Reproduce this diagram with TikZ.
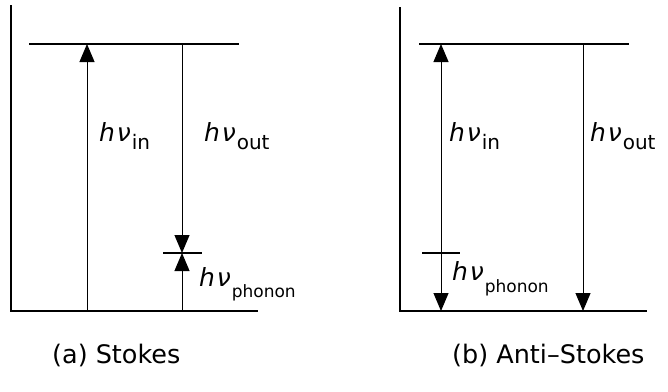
\documentclass[tikz,border=0pt]{standalone}
\usepackage{fontspec}
\setmainfont{DejaVu Sans}
\usetikzlibrary{arrows.meta}
% #1 subscript, #2 subscript size, #3 drop of subscript
\newcommand{\hnu}[3]{{\fontsize{25}{25}\selectfont\itshape h\kern2pt ν}\kern1pt\raisebox{-#3}{\fontsize{#2}{#2}\selectfont #1}}
\begin{document}
\begin{tikzpicture}[x=1pt,y=-1pt,
  level/.style={line width=1.3pt},
  trans/.style={line width=1pt},
  tip/.style={-{Triangle[length=18pt,width=15pt]}},
  lbl/.style={anchor=base west,inner sep=0pt,outer sep=0pt},
  captext/.style={anchor=base west,inner sep=0pt,font=\fontsize{25.5}{25.5}\selectfont}]
\useasboundingbox (0,0) rectangle (668,391);
% ---------- (a) Stokes ----------
\coordinate (aAxT) at (11,5);
\coordinate (aAxB) at (11,311);
\coordinate (aBotR) at (258,311);
\coordinate (aTopL) at (29,44);
\coordinate (aTopR) at (239,44);
\coordinate (aInB) at (87,311);
\coordinate (aInT) at (87,44);
\coordinate (aOutT) at (182,44);
\coordinate (aMid) at (182,253);
\coordinate (aOutB) at (182,311);
\coordinate (aTickL) at (163,253);
\coordinate (aTickR) at (202,253);
\draw[level] (aAxT) -- (aAxB) -- (aBotR);
\draw[level] (aTopL) -- (aTopR);
\draw[level] (aTickL) -- (aTickR);
\draw[trans,tip] (aInB) -- (aInT);
\draw[trans,tip] (aOutT) -- (aMid);
\draw[trans,tip] (aOutB) -- (aMid);
\node[lbl] (aLin) at (99,141) {\hnu{in}{20}{8pt}};
\node[lbl] (aLout) at (204,141) {\hnu{out}{20}{8pt}};
\node[lbl] (aLph) at (199,286) {\hnu{phonon}{17}{11pt}};
\node[captext] (aCap) at (52,363) {(a) Stokes};
% ---------- (b) Anti-Stokes ----------
\coordinate (bAxT) at (400,7);
\coordinate (bAxB) at (400,311);
\coordinate (bBotR) at (647,311);
\coordinate (bTopL) at (419,44);
\coordinate (bTopR) at (629,44);
\coordinate (bInT) at (441,44);
\coordinate (bInB) at (441,311);
\coordinate (bMid) at (441,253);
\coordinate (bOutT) at (583,44);
\coordinate (bOutB) at (583,311);
\coordinate (bTickL) at (422,253);
\coordinate (bTickR) at (460,253);
\draw[level] (bAxT) -- (bAxB) -- (bBotR);
\draw[level] (bTopL) -- (bTopR);
\draw[level] (bTickL) -- (bTickR);
\draw[trans,tip] (bMid) -- (bInT);
\draw[trans,tip] (bMid) -- (bInB);
\draw[trans,tip] (bOutT) -- (bOutB);
\node[lbl] (bLin) at (449,141) {\hnu{in}{20}{8pt}};
\node[lbl] (bLout) at (590,141) {\hnu{out}{20}{8pt}};
\node[lbl] (bLph) at (452,280) {\hnu{phonon}{17}{12pt}};
\node[captext] (bCap) at (452,363) {(b) Anti–Stokes};
\end{tikzpicture}
\end{document}
